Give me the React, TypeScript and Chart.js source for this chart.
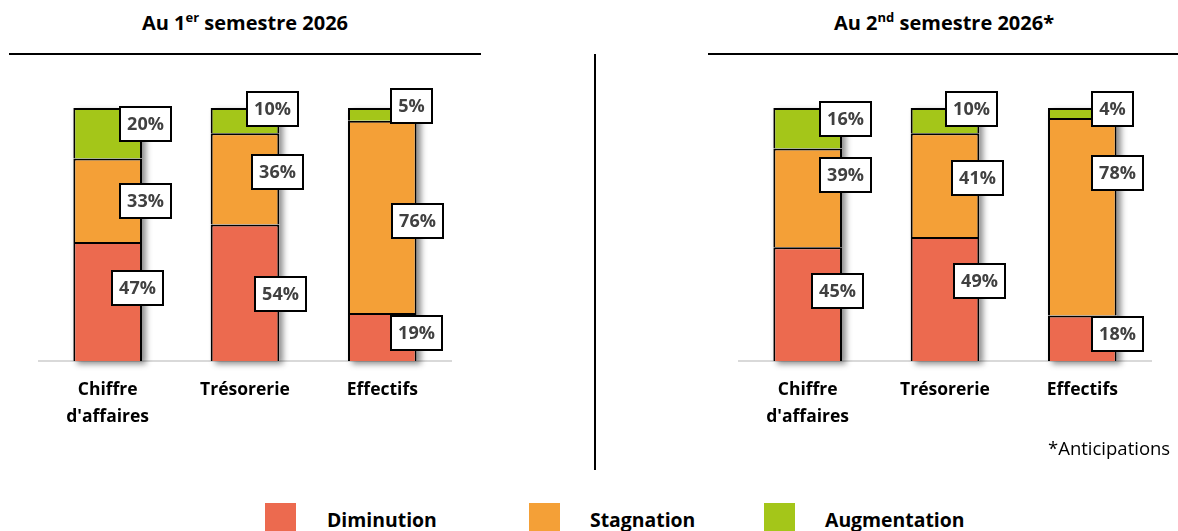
import React, { useEffect, useRef } from "react";
import { Chart, registerables } from "chart.js";

Chart.register(...registerables);

// ---- Data ----
const categories: (string | string[])[] = [["Chiffre", "d'affaires"], "Trésorerie", "Effectifs"];
const seriesNames = ["Diminution", "Stagnation", "Augmentation"];

const s1Diminution = [47, 54, 19];
const s1Stagnation = [33, 36, 76];
const s1Augmentation = [20, 10, 5];

const s2Diminution = [45, 49, 18];
const s2Stagnation = [39, 41, 78];
const s2Augmentation = [16, 10, 4];

// ---- Styles ----
const COLORS = ["#EC6A4F", "#F4A037", "#A4C619"];
const FONT = "'Open Sans', Lato, sans-serif";

// label nudges [series][category] = [dx, dy] relative to (bar right edge, segment middle)
const labelNudge1 = [
  [[-5, -13.5], [1, 1], [0, -4]],
  [[3, 1], [-2, -6.5], [0.5, 4]],
  [[3, -9], [-7, -11.5], [-5, -8]],
];
const labelNudge2 = [
  [[-5, -13.5], [0.5, -18], [1, -4.5]],
  [[3, -23], [-2, -7], [1, -44]],
  [[3, -9], [-7.5, -11.5], [-4.5, -4]],
];

const shadowPlugin = {
  id: "barShadow",
  beforeDatasetsDraw(chart: any) {
    const ctx = chart.ctx;
    const n = chart.data.labels.length;
    const metas = chart.data.datasets.map((_: any, i: number) => chart.getDatasetMeta(i));
    for (let j = 0; j < n; j++) {
      let top = Infinity;
      let base = -Infinity;
      let x = 0;
      let w = 0;
      metas.forEach((m: any) => {
        const el = m.data[j];
        if (!el) return;
        const p = el.getProps(["x", "y", "base", "width"], true);
        top = Math.min(top, p.y, p.base);
        base = Math.max(base, p.base, p.y);
        x = p.x;
        w = p.width;
      });
      ctx.save();
      ctx.shadowColor = "rgba(0,0,0,0.45)";
      ctx.shadowBlur = 6;
      ctx.shadowOffsetX = 4;
      ctx.shadowOffsetY = 3;
      ctx.fillStyle = "#ffffff";
      ctx.fillRect(x - w / 2, top, w, base - top);
      ctx.restore();
    }
  },
};

const labelPlugin = {
  id: "boxLabels",
  afterDatasetsDraw(chart: any, _args: any, opts: any) {
    const ctx = chart.ctx;
    const nudge = opts.nudge || [];
    chart.data.datasets.forEach((ds: any, i: number) => {
      const meta = chart.getDatasetMeta(i);
      meta.data.forEach((el: any, j: number) => {
        const p = el.getProps(["x", "y", "base", "width"], true);
        const [dx, dy] = (nudge[i] && nudge[i][j]) || [0, 0];
        const cx = p.x + p.width / 2 + dx;
        const cy = (p.y + p.base) / 2 + dy;
        const text = `${ds.data[j]}%`;
        ctx.save();
        ctx.font = `bold 18px ${FONT}`;
        const tw = ctx.measureText(text).width;
        const bw = Math.round(tw + 14);
        const bh = 34;
        const bx = Math.round(cx - bw / 2);
        const by = Math.round(cy - bh / 2);
        ctx.fillStyle = "#ffffff";
        ctx.fillRect(bx, by, bw, bh);
        ctx.lineWidth = 2;
        ctx.strokeStyle = "#000000";
        ctx.strokeRect(bx, by, bw, bh);
        ctx.fillStyle = "#404040";
        ctx.textAlign = "center";
        ctx.textBaseline = "middle";
        ctx.fillText(text, bx + bw / 2, by + bh / 2 + 1);
        ctx.restore();
      });
    });
  },
};

type PanelProps = {
  left: number;
  width: number;
  axisLeft: number;
  axisRight: number;
  dim: number[];
  stag: number[];
  aug: number[];
  nudge: number[][][];
};

const HEIGHT = 470;
const PLOT_TOP = 108;
const PLOT_BOTTOM = 361;
const XAXIS_H = 80;

function Panel({ left, width, axisLeft, axisRight, dim, stag, aug, nudge }: PanelProps) {
  const ref = useRef<HTMLCanvasElement | null>(null);
  useEffect(() => {
    if (!ref.current) return;
    const values = [dim, stag, aug];
    const chart = new Chart(ref.current, {
      type: "bar",
      data: {
        labels: categories,
        datasets: values.map((v, i) => ({
          label: seriesNames[i],
          data: v,
          backgroundColor: COLORS[i],
          borderColor: "#000000",
          borderWidth: 2,
          borderSkipped: "start",
          barPercentage: 0.5,
          categoryPercentage: 1.0,
        })),
      },
      options: {
        animation: false,
        responsive: false,
        maintainAspectRatio: false,
        devicePixelRatio: 1,
        layout: {
          padding: {
            left: axisLeft - left,
            right: left + width - axisRight,
            top: PLOT_TOP,
            bottom: HEIGHT - PLOT_BOTTOM - XAXIS_H,
          },
        },
        plugins: {
          legend: { display: false },
          tooltip: { enabled: false },
          title: { display: false },
          boxLabels: { nudge },
        } as any,
        scales: {
          x: {
            stacked: true,
            grid: { display: false, drawTicks: false },
            border: { display: true, color: "#D9D9D9", width: 2 },
            ticks: {
              color: "#000000",
              padding: 16,
              maxRotation: 0,
              autoSkip: false,
              font: { family: FONT, size: 17.5, weight: "bold", lineHeight: "27px" } as any,
            },
            afterFit: (scale: any) => {
              scale.height = XAXIS_H;
            },
          },
          y: {
            stacked: true,
            display: false,
            min: 0,
            max: 100,
          },
        },
      },
      plugins: [shadowPlugin, labelPlugin],
    });
    return () => chart.destroy();
  }, []);
  return (
    <canvas
      ref={ref}
      width={width}
      height={HEIGHT}
      style={{ position: "absolute", left, top: 0, width, height: HEIGHT }}
    />
  );
}

const titleStyle: React.CSSProperties = {
  position: "absolute",
  top: 10,
  textAlign: "center",
  fontFamily: FONT,
  fontWeight: 700,
  fontSize: 20,
  lineHeight: "26px",
  color: "#000",
  whiteSpace: "nowrap",
};
const supStyle: React.CSSProperties = {
  fontSize: 13,
  position: "relative",
  top: -8,
  lineHeight: 0,
};
const legendText: React.CSSProperties = {
  position: "absolute",
  top: 507,
  fontFamily: FONT,
  fontWeight: 700,
  fontSize: 19.4,
  lineHeight: "26px",
  color: "#000",
  whiteSpace: "nowrap",
};

export default function App() {
  return (
    <div
      style={{
        position: "absolute",
        left: 0,
        top: 0,
        width: 1178,
        height: 531,
        overflow: "hidden",
        background: "#fff",
      }}
    >
      <div style={{ ...titleStyle, left: 0, width: 490 }}>
        Au 1<span style={supStyle}>er</span> semestre 2026
      </div>
      <div style={{ ...titleStyle, left: 690, width: 508 }}>
        Au 2<span style={supStyle}>nd</span> semestre 2026*
      </div>
      <div style={{ position: "absolute", left: 9, top: 53, width: 472, height: 2, background: "#000" }} />
      <div style={{ position: "absolute", left: 708, top: 53, width: 470, height: 2, background: "#000" }} />
      <div style={{ position: "absolute", left: 594, top: 54, width: 2, height: 416, background: "#000" }} />

      <Panel
        left={0}
        width={490}
        axisLeft={39}
        axisRight={451}
        dim={s1Diminution}
        stag={s1Stagnation}
        aug={s1Augmentation}
        nudge={labelNudge1}
      />
      <Panel
        left={600}
        width={578}
        axisLeft={739}
        axisRight={1151}
        dim={s2Diminution}
        stag={s2Stagnation}
        aug={s2Augmentation}
        nudge={labelNudge2}
      />

      <div
        style={{
          position: "absolute",
          left: 1048,
          top: 435,
          fontFamily: FONT,
          fontSize: 18.5,
          lineHeight: "26px",
          color: "#000",
          whiteSpace: "nowrap",
        }}
      >
        *Anticipations
      </div>

      <div style={{ position: "absolute", left: 265, top: 503, width: 31, height: 31, background: COLORS[0] }} />
      <div style={{ ...legendText, left: 327 }}>{seriesNames[0]}</div>
      <div style={{ position: "absolute", left: 529, top: 503, width: 31, height: 31, background: COLORS[1] }} />
      <div style={{ ...legendText, left: 590 }}>{seriesNames[1]}</div>
      <div style={{ position: "absolute", left: 764, top: 503, width: 31, height: 31, background: COLORS[2] }} />
      <div style={{ ...legendText, left: 825 }}>{seriesNames[2]}</div>
    </div>
  );
}
